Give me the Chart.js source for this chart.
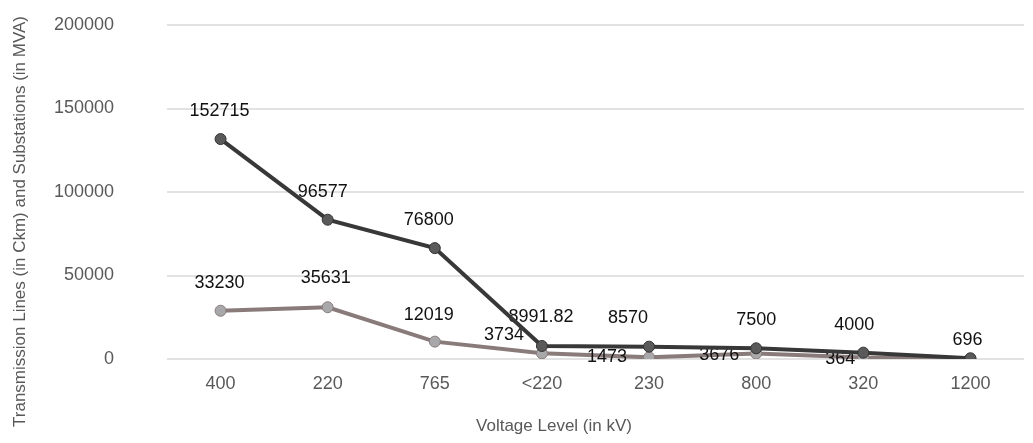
<!DOCTYPE html>
<html>
<head>
<meta charset="utf-8">
<script src="https://cdn.jsdelivr.net/npm/chart.js@4.4.1/dist/chart.umd.min.js"></script>
<style>
  html, body { margin: 0; padding: 0; background: #ffffff; }
  #wrap { width: 1033px; height: 443px; position: relative; }
</style>
</head>
<body>
<div id="wrap"><canvas id="c" width="1033" height="443"></canvas></div>
<script>
// ---- data ----
const categories = ['400', '220', '765', '<220', '230', '800', '320', '1200'];
// values as plotted (read from the point positions)
const linesValues = [131700, 83400, 66400, 7800, 7400, 6400, 3800, 450];
const substationsValues = [28900, 31000, 10400, 3400, 1000, 3300, 900, 0];
// data label texts as printed on the chart
const linesLabels = ['152715', '96577', '76800', '8991.82', '8570', '7500', '4000', '696'];
const substationsLabels = ['33230', '35631', '12019', '3734', '1473', '3676', '364', ''];
const yTickValues = [0, 50000, 100000, 150000, 200000];
const xTitle = 'Voltage Level (in kV)';
const yTitle = 'Transmission Lines (in Ckm) and Substations (in MVA)';

// ---- label placement (style, not data) ----
const linesLabelOffsets = [[-1,-28],[-5,-28],[-6,-28],[-1,-29],[-21,-29],[0,-28],[-9,-28],[-3,-18]];
const substationsLabelOffsets = [[-1,-28],[-2,-29],[-6,-27],[-38,-18],[-42,0],[-37,2],[-23,2],[0,0]];

const FONT = '"Liberation Sans", Arial, sans-serif';

const labelPlugin = {
  id: 'pointLabels',
  afterDatasetDraw(chart, args) {
    if (args.index !== 1) return;
    const ctx = chart.ctx;
    ctx.save();
    ctx.font = '18px ' + FONT;
    ctx.fillStyle = '#111111';
    ctx.textAlign = 'center';
    ctx.textBaseline = 'middle';
    const sets = [[linesLabels, linesLabelOffsets], [substationsLabels, substationsLabelOffsets]];
    sets.forEach(([texts, offs], di) => {
      const meta = chart.getDatasetMeta(di);
      meta.data.forEach((pt, i) => {
        if (!texts[i]) return;
        ctx.fillText(texts[i], pt.x + offs[i][0], pt.y + offs[i][1]);
      });
    });
    ctx.restore();
  }
};

const titlePlugin = {
  id: 'axisTitles',
  afterDraw(chart) {
    const ctx = chart.ctx;
    ctx.save();
    ctx.font = '17px ' + FONT;
    ctx.fillStyle = '#595959';
    ctx.textAlign = 'center';
    ctx.textBaseline = 'middle';
    ctx.fillText(xTitle, 554, 426);
    ctx.translate(20, 221.5);
    ctx.rotate(-Math.PI / 2);
    ctx.fillText(yTitle, 0, 0);
    ctx.restore();
  }
};

new Chart(document.getElementById('c'), {
  type: 'line',
  data: {
    labels: categories,
    datasets: [
      {
        label: 'Transmission Lines (in Ckm)',
        data: linesValues,
        borderColor: '#383838',
        borderWidth: 4,
        pointRadius: 5.5,
        pointBackgroundColor: '#5a5a5a',
        pointBorderColor: '#333333',
        pointBorderWidth: 1,
        tension: 0,
        fill: false
      },
      {
        label: 'Substations (in MVA)',
        data: substationsValues,
        borderColor: '#8a7b7b',
        borderWidth: 4,
        pointRadius: 5.5,
        pointBackgroundColor: '#a8a8ab',
        pointBorderColor: '#8a7b7b',
        pointBorderWidth: 1,
        tension: 0,
        fill: false
      }
    ]
  },
  options: {
    responsive: false,
    animation: false,
    devicePixelRatio: 1,
    layout: { padding: { top: 25, right: 9, left: 0, bottom: 0 } },
    plugins: { legend: { display: false }, tooltip: { enabled: false } },
    scales: {
      x: {
        offset: true,
        grid: { display: false, drawTicks: false },
        border: { display: false },
        ticks: { color: '#595959', font: { family: FONT, size: 18 }, padding: 14, maxRotation: 0, autoSkip: false },
        afterFit(scale) { scale.height = 84; }
      },
      y: {
        min: 0,
        max: 200000,
        grid: { color: '#e2e2e2', lineWidth: 2, drawTicks: false },
        border: { display: false },
        afterBuildTicks(scale) { scale.ticks = yTickValues.map(v => ({ value: v })); },
        ticks: {
          color: '#595959',
          font: { family: FONT, size: 18 },
          padding: 53,
          callback: (v) => String(v)
        },
        afterFit(scale) {
          scale.width = 167;
          scale.paddingTop = 0;
          scale.paddingBottom = 0;
        }
      }
    }
  },
  plugins: [labelPlugin, titlePlugin]
});
</script>
</body>
</html>
